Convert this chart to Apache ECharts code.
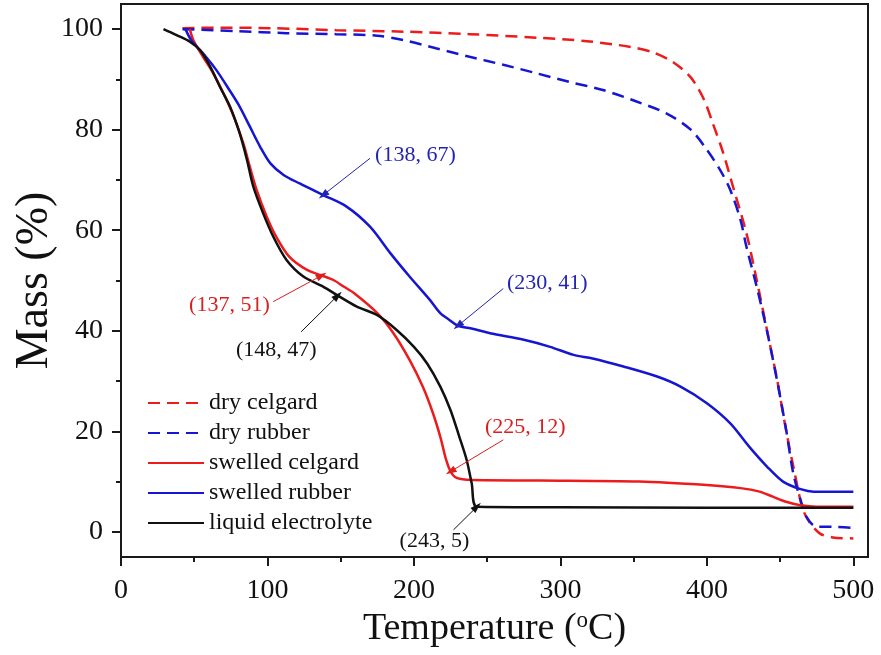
<!DOCTYPE html>
<html>
<head>
<meta charset="utf-8">
<script src="https://cdn.jsdelivr.net/npm/echarts@6/dist/echarts.min.js"></script>
<style>
  html, body { margin: 0; padding: 0; background: #fff; }
  #chart { width: 881px; height: 655px; }
</style>
</head>
<body>
<div id="chart"></div>
<script>
// Thermogravimetric curves: mass (%) versus temperature (°C)
const seriesNames = ['dry celgard', 'dry rubber', 'swelled celgard', 'swelled rubber', 'liquid electrolyte'];

const dryCelgardT    = [42, 68, 102, 147, 193, 238, 284, 318, 347, 363, 377, 389, 398, 404, 411, 418, 427, 434, 441, 448, 454, 460, 465, 469, 477, 486, 500];
const dryCelgardMass = [100.2, 100.3, 100.2, 99.8, 99.5, 99.0, 98.3, 97.6, 96.5, 95.4, 93.4, 90.4, 86.0, 81.3, 75.5, 68.5, 59.4, 50.1, 40.2, 30.2, 20.3, 11.6, 5.0, 2.4, -0.3, -1.1, -1.3];

const dryRubberT    = [42, 79, 113, 147, 175, 193, 215, 238, 261, 284, 306, 329, 352, 372, 389, 400, 409, 416, 423, 427, 434, 441, 448, 454, 459, 464, 468, 475, 486, 500];
const dryRubberMass = [100, 99.6, 99.2, 99.0, 98.7, 97.8, 96.2, 94.5, 92.9, 91.2, 89.5, 87.9, 85.6, 83.3, 80.0, 76.0, 72.0, 68.0, 62.0, 56.7, 48.8, 40.0, 30.0, 20.5, 11.6, 6.3, 3.0, 1.0, 1.0, 0.8];

const swelledCelgardT    = [47, 49.4, 56, 63, 70, 77, 83.5, 88, 92.6, 99.5, 106, 115, 127, 137, 145, 152, 159, 175, 186, 197, 206, 213, 218, 222, 225, 228, 232, 240, 286, 354, 400, 423, 436, 445, 454, 464, 475, 500];
const swelledCelgardMass = [100, 97.8, 94.5, 91.2, 87.2, 82.6, 77.3, 72.6, 68.0, 62.7, 58.7, 54.7, 52.1, 51.0, 50.1, 48.8, 47.5, 43.5, 39.5, 34.2, 28.9, 23.6, 18.9, 14.3, 12.0, 10.9, 10.5, 10.3, 10.2, 10.0, 9.3, 8.7, 8.0, 7.0, 6.0, 5.3, 5.0, 5.0];

const swelledRubberT    = [44, 48, 56, 65, 74, 81, 88, 95, 102, 111, 122, 138, 154, 170, 184, 197, 211, 218, 224, 230, 240, 252, 275, 293, 309, 322, 343, 366, 382, 400, 416, 429, 441, 452, 464, 473, 500];
const swelledRubberMass = [100, 97.8, 95.2, 91.9, 87.9, 84.6, 80.6, 76.6, 73.3, 71.0, 69.3, 67.0, 64.7, 60.7, 55.4, 50.8, 46.1, 43.5, 42.2, 41.0, 40.4, 39.5, 38.2, 36.8, 35.2, 34.5, 32.9, 30.9, 28.9, 25.6, 21.6, 16.9, 13.0, 10.0, 8.5, 8.0, 8.0];

const electrolyteT    = [29, 38, 47, 54, 61, 67.6, 74.4, 81, 86, 90.3, 97, 104, 113, 124.5, 138, 148, 161, 175, 188, 200, 209, 218, 225, 231, 236, 239.4, 243, 300, 400, 500];
const electrolyteMass = [100, 98.8, 97.5, 95.8, 92.5, 88.5, 84.6, 79.3, 74.0, 68.7, 63.4, 58.7, 54.1, 50.8, 48.8, 47.0, 44.8, 43.1, 40.2, 36.8, 33.5, 28.9, 24.2, 18.9, 14.3, 9.7, 5.0, 4.9, 4.8, 4.8];

// Labelled points (temperature, mass) and the curve each one belongs to
const pointT      = [138, 230, 137, 148, 225, 243];
const pointMass   = [67, 41, 51, 47, 12, 5];
const pointSeries = [3, 3, 2, 4, 2, 4];

// Axis tick values
const xMajorTicks = [0, 100, 200, 300, 400, 500];
const xMinorTicks = [50, 150, 250, 350, 450];
const yMajorTicks = [0, 20, 40, 60, 80, 100];
const yMinorTicks = [10, 30, 50, 70, 90];

const zip = (xs, ys) => xs.map((x, i) => [x, ys[i]]);

const RED = '#ec1c1c';
const BLUE = '#1616d2';
const BLACK = '#111111';
const FONT = 'Liberation Serif';
const colors = [RED, BLUE, RED, BLUE, BLACK];
const textColors = ['#d82020', '#2424b4', '#d82020', '#2424b4', '#111111'];
const dashed = [true, true, false, false, false];
const curves = [
  zip(dryCelgardT, dryCelgardMass),
  zip(dryRubberT, dryRubberMass),
  zip(swelledCelgardT, swelledCelgardMass),
  zip(swelledRubberT, swelledRubberMass),
  zip(electrolyteT, electrolyteMass)
];

// Where each annotation's text and arrow tail sit, in data units
const labelAnchor = [
  { text: [201, 75.0], tail: [170, 74.3] },
  { text: [291, 49.5], tail: [261, 48.4] },
  { text: [74,  45.1], tail: [104, 45.8] },
  { text: [106, 36.2], tail: [123, 39.8] },
  { text: [276, 20.9], tail: [261, 18.3] },
  { text: [214, -1.8], tail: [227, 0.4] }
];

const series = curves.map((data, s) => {
  const mine = pointT.map((_, k) => k).filter(k => pointSeries[k] === s);
  return {
    name: seriesNames[s],
    type: 'line',
    data: data,
    symbol: 'none',
    smooth: 0.3,
    z: s === 4 ? 3 : 2,
    lineStyle: { color: colors[s], width: 2.5, type: dashed[s] ? [12, 7] : 'solid' },
    itemStyle: { color: colors[s], opacity: 0 },
    silent: true,
    markLine: mine.length ? {
      silent: true,
      animation: false,
      symbol: ['none', 'triangle'],
      symbolSize: [7, 11],
      label: { show: false },
      itemStyle: { color: textColors[s], opacity: 1 },
      lineStyle: { color: textColors[s], width: 1, type: 'solid', opacity: 1 },
      data: mine.map(k => [
        { coord: labelAnchor[k].tail, symbol: 'none' },
        { coord: [pointT[k], pointMass[k]], symbol: 'triangle' }
      ])
    } : undefined,
    markPoint: mine.length ? {
      silent: true,
      animation: false,
      symbol: 'circle',
      symbolSize: 1,
      itemStyle: { color: 'rgba(0,0,0,0)', opacity: 0 },
      label: {
        show: true,
        position: 'inside',
        fontFamily: FONT,
        fontSize: 22,
        color: textColors[s],
        opacity: 1
      },
      data: mine.map(k => ({
        coord: labelAnchor[k].text,
        label: { formatter: '(' + pointT[k] + ', ' + pointMass[k] + ')' }
      }))
    } : undefined
  };
});

const labelStyle = { fontFamily: FONT, fontSize: 28, color: BLACK };
const tickAxis = (len, values) => ({
  show: true, length: len, customValues: values,
  lineStyle: { color: '#1a1a1a', width: 2 }
});

const option = {
  animation: false,
  backgroundColor: '#ffffff',
  grid: {
    left: 121, right: 13, top: 4, bottom: 98,
    show: true, borderColor: '#1a1a1a', borderWidth: 2
  },
  legend: {
    orient: 'vertical',
    left: 142,
    top: 386,
    itemWidth: 56,
    itemHeight: 14,
    itemGap: 6,
    data: seriesNames,
    itemStyle: { opacity: 0 },
    textStyle: { fontFamily: FONT, fontSize: 24, color: BLACK, lineHeight: 24 }
  },
  xAxis: [
    {
      type: 'value', min: 0, max: 510, position: 'bottom',
      axisLine: { show: false, onZero: false },
      splitLine: { show: false },
      axisTick: tickAxis(9, xMajorTicks),
      axisLabel: Object.assign({ margin: 20, customValues: xMajorTicks }, labelStyle),
      name: 'Temperature ({sup|o}C)',
      nameLocation: 'middle',
      nameGap: 52,
      nameMoveOverlap: false,
      nameTextStyle: {
        fontFamily: FONT, fontSize: 38, color: BLACK, lineHeight: 40,
        rich: { sup: { fontFamily: FONT, fontSize: 23, color: BLACK, verticalAlign: 'top', lineHeight: 40 } }
      }
    },
    {
      type: 'value', min: 0, max: 510, position: 'bottom',
      axisLine: { show: false, onZero: false },
      splitLine: { show: false },
      axisLabel: { show: false },
      axisTick: tickAxis(5, xMinorTicks)
    }
  ],
  yAxis: [
    {
      type: 'value', min: -5, max: 105, position: 'left',
      axisLine: { show: false, onZero: false },
      splitLine: { show: false },
      axisTick: tickAxis(9, yMajorTicks),
      axisLabel: Object.assign({ margin: 18, customValues: yMajorTicks }, labelStyle),
      name: 'Mass (%)',
      nameLocation: 'middle',
      nameGap: 63,
      nameMoveOverlap: false,
      nameTextStyle: { fontFamily: FONT, fontSize: 46, color: BLACK }
    },
    {
      type: 'value', min: -5, max: 105, position: 'left',
      axisLine: { show: false, onZero: false },
      splitLine: { show: false },
      axisLabel: { show: false },
      axisTick: tickAxis(5, yMinorTicks)
    }
  ],
  series: series
};

const chart = echarts.init(document.getElementById('chart'), null, { renderer: 'canvas' });
chart.setOption(option);
</script>
</body>
</html>
